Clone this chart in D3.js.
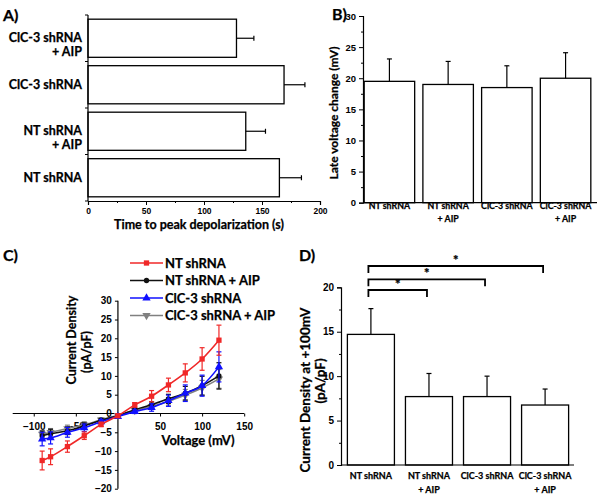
<!DOCTYPE html>
<html><head><meta charset="utf-8">
<script src="https://cdn.jsdelivr.net/npm/d3@7"></script>
<style>
body{margin:0;background:#fff;}
svg{display:block;}
text{font-family:Lato,"Open Sans",sans-serif;font-weight:bold;fill:#000;stroke:#000;stroke-width:0.25px;}
.num{font-family:"Liberation Sans",Arial,sans-serif;font-weight:bold;stroke-width:0;}
</style></head>
<body>
<script>
// ---------- Panel A data ----------
const catsA = ["ClC-3 shRNA|+ AIP", "ClC-3 shRNA", "NT shRNA|+ AIP", "NT shRNA"];
const valsA = [128, 169, 136, 165];
const errA  = [15, 18, 17, 19];
const ticksA = [0, 50, 100, 150, 200];

// ---------- Panel B data ----------
const catsB = ["NT shRNA", "NT shRNA|+ AIP", "ClC-3 shRNA", "ClC-3 shRNA|+ AIP"];
const valsB = [19.5, 19.0, 18.5, 20.0];
const errB  = [3.6, 3.7, 3.5, 4.1];
const ticksB = [0, 5, 10, 15, 20, 25, 30];

// ---------- Panel C data ----------
const voltages = [-90, -80, -60, -40, -20, 0, 20, 40, 60, 80, 100, 120];
const seriesNames = ["NT shRNA", "NT shRNA + AIP", "ClC-3 shRNA", "ClC-3 shRNA + AIP"];
const ntVals     = [-12.5, -11.5, -8.8, -5.9, -2.9, -0.6, 2.3, 4.6, 7.6, 10.8, 14.5, 19.5];
const ntErr      = [2.5, 2.1, 1.5, 1.0, 0.6, 0.4, 0.6, 1.5, 1.8, 2.4, 3.0, 4.0];
const ntAipVals  = [-5.9, -5.4, -4.6, -3.3, -1.8, -0.6, 1.0, 2.3, 3.9, 5.4, 7.4, 10.0];
const ntAipErr   = [1.2, 1.2, 1.0, 0.8, 0.5, 0.3, 0.5, 0.8, 1.2, 1.8, 2.5, 3.5];
const clcVals    = [-6.8, -6.5, -5.0, -3.8, -2.2, -0.8, 0.5, 1.6, 3.4, 5.4, 7.4, 12.4];
const clcErr     = [1.8, 1.6, 1.3, 1.0, 0.6, 0.4, 0.5, 1.0, 1.5, 2.2, 2.8, 4.0];
const clcAipVals = [-5.5, -5.0, -4.0, -3.0, -1.7, -0.5, 0.8, 1.9, 3.2, 4.9, 6.8, 9.2];
const clcAipErr  = [1.0, 1.0, 0.9, 0.8, 0.5, 0.3, 0.5, 0.8, 1.0, 1.5, 2.0, 2.5];
const xTicksC = [-100, -50, 0, 50, 100, 150];
const yTicksC = [-20, -15, -10, -5, 0, 5, 10, 15, 20, 25, 30];

// ---------- Panel D data ----------
const catsD = ["NT shRNA", "NT shRNA|+ AIP", "ClC-3 shRNA", "ClC-3 shRNA|+ AIP"];
const valsD = [14.7, 7.7, 7.7, 6.75];
const errD  = [2.9, 2.6, 2.3, 1.8];
const ticksD = [0, 5, 10, 15, 20];
const sigPairs = [[0, 1], [0, 2], [0, 3]];

const svg = d3.select("body").append("svg").attr("width", 602).attr("height", 498);

function multiLabel(g, x, y, label, anchor, size, dy) {
  const parts = label.split("|");
  parts.forEach((p, i) => {
    g.append("text").attr("x", x).attr("y", y + i * dy).attr("text-anchor", anchor)
      .attr("font-size", size).text(p);
  });
}

// ================= Panel A =================
{
  const g = svg.append("g");
  const x = d3.scaleLinear().domain([0, 200]).range([88, 320]);
  const y = d3.scaleBand().domain(catsA).range([15, 201]).paddingInner(0.18).paddingOuter(0.09);
  g.append("text").attr("x", 3).attr("y", 21).attr("font-size", 16).text("A)");
  g.selectAll("rect.bar").data(catsA).join("rect")
    .attr("x", x(0)).attr("y", d => y(d)).attr("width", (d, i) => x(valsA[i]) - x(0))
    .attr("height", y.bandwidth()).attr("fill", "#fff").attr("stroke", "#000").attr("stroke-width", 1.3);
  catsA.forEach((c, i) => {
    const cy = y(c) + y.bandwidth() / 2;
    g.append("line").attr("x1", x(valsA[i])).attr("x2", x(valsA[i] + errA[i])).attr("y1", cy).attr("y2", cy)
      .attr("stroke", "#000").attr("stroke-width", 1.2);
    g.append("line").attr("x1", x(valsA[i] + errA[i])).attr("x2", x(valsA[i] + errA[i])).attr("y1", cy - 2.5).attr("y2", cy + 2.5)
      .attr("stroke", "#000").attr("stroke-width", 1.2);
  });
  const ax = g.append("g").attr("transform", "translate(0,201)")
    .call(d3.axisBottom(x).tickValues(ticksA).tickSize(4).tickPadding(3));
  ax.selectAll("text").attr("class", "num").attr("font-size", 8.5);
  ax.select(".domain").attr("stroke-width", 1.2);
  g.append("g").attr("transform", "translate(0,201)")
    .call(d3.axisBottom(x).tickValues([25, 75, 125, 175]).tickSize(2).tickFormat(""))
    .select(".domain").remove();
  g.append("text").attr("x", 199).attr("y", 229).attr("text-anchor", "middle").attr("font-size", 12.5)
    .text("Time to peak depolarization (s)");
  g.append("line").attr("x1", 88).attr("x2", 88).attr("y1", 15).attr("y2", 201).attr("stroke", "#000").attr("stroke-width", 1.2);
  const bounds = catsA.map(c => y(c) - y.step() * y.paddingInner() / 2).concat([201]);
  bounds[0] = 15;
  bounds.forEach(b => g.append("line").attr("x1", 85).attr("x2", 88).attr("y1", b).attr("y2", b).attr("stroke", "#000"));
  catsA.forEach(c => multiLabel(g, 82, y(c) + y.bandwidth() / 2 + 4, c, "end", 12.5, 14));
}

// ================= Panel B =================
{
  const g = svg.append("g");
  const x = d3.scaleBand().domain(catsB).range([363, 592]).paddingInner(0.14).paddingOuter(0.02);
  const y = d3.scaleLinear().domain([0, 30]).range([202.7, 16]);
  g.append("text").attr("x", 332).attr("y", 20).attr("font-size", 16).text("B)");
  g.selectAll("rect.bar").data(catsB).join("rect")
    .attr("x", d => x(d)).attr("y", (d, i) => y(valsB[i])).attr("width", x.bandwidth())
    .attr("height", (d, i) => y(0) - y(valsB[i])).attr("fill", "#fff").attr("stroke", "#000").attr("stroke-width", 1.3);
  catsB.forEach((c, i) => {
    const cx = x(c) + x.bandwidth() / 2;
    g.append("line").attr("x1", cx).attr("x2", cx).attr("y1", y(valsB[i])).attr("y2", y(valsB[i] + errB[i])).attr("stroke", "#000").attr("stroke-width", 1.2);
    g.append("line").attr("x1", cx - 2.5).attr("x2", cx + 2.5).attr("y1", y(valsB[i] + errB[i])).attr("y2", y(valsB[i] + errB[i])).attr("stroke", "#000").attr("stroke-width", 1.2);
    multiLabel(g, cx, 209, c, "middle", 8.8, 13);
  });
  const ay = g.append("g").attr("transform", "translate(363,0)")
    .call(d3.axisLeft(y).tickValues(ticksB).tickSize(4).tickPadding(3));
  ay.selectAll("text").attr("class", "num").attr("font-size", 9.5);
  ay.select(".domain").attr("stroke-width", 1.2);
  g.append("g").attr("transform", "translate(363,0)")
    .call(d3.axisLeft(y).tickValues([2.5, 7.5, 12.5, 17.5, 22.5, 27.5]).tickSize(2).tickFormat(""))
    .select(".domain").remove();
  g.append("line").attr("x1", 363).attr("x2", 597).attr("y1", y(0)).attr("y2", y(0)).attr("stroke", "#000").attr("stroke-width", 1.2);
  g.append("text").attr("transform", "translate(338,113) rotate(-90)")
    .attr("text-anchor", "middle").attr("font-size", 12).text("Late voltage change (mV)");
}

// ================= Panel C =================
{
  const g = svg.append("g");
  const x = d3.scaleLinear().domain([-125, 150]).range([12.7, 244.2]);
  const y = d3.scaleLinear().domain([-20, 30]).range([488.7, 300.7]);
  g.append("text").attr("x", 3).attr("y", 261).attr("font-size", 16).text("C)");
  const ax = g.append("g").attr("transform", `translate(0,${y(0)})`)
    .call(d3.axisBottom(x).tickValues(xTicksC).tickSize(3).tickPadding(6));
  ax.selectAll("text").attr("class", "num").attr("font-size", 10);
  ax.select(".domain").attr("d", `M${x(-125)},0H${x(150)}`).attr("stroke-width", 1.2);
  ax.selectAll(".tick").filter(d => d === 0).select("text").remove();
  const ay = g.append("g").attr("transform", `translate(${x(0)},0)`)
    .call(d3.axisLeft(y).tickValues(yTicksC).tickSize(3).tickPadding(3));
  ay.selectAll("text").attr("class", "num").attr("font-size", 10);
  ay.select(".domain").attr("d", `M0,${y(30)}V${y(-20)}`).attr("stroke-width", 1.2);
  g.append("text").attr("x", 198).attr("y", 445).attr("text-anchor", "middle").attr("font-size", 13).text("Voltage (mV)");
  g.append("text").attr("transform", "translate(76,340) rotate(-90)").attr("text-anchor", "middle").attr("font-size", 12.5).text("Current Density");
  g.append("text").attr("transform", "translate(91,352) rotate(-90)").attr("text-anchor", "middle").attr("font-size", 12.5).text("(pA/pF)");

  const series = [
    {name: seriesNames[3], vals: clcAipVals, err: clcAipErr, color: "#808080", sym: d3.symbolTriangle, rot: 180},
    {name: seriesNames[1], vals: ntAipVals, err: ntAipErr, color: "#111111", sym: d3.symbolCircle, rot: 0},
    {name: seriesNames[2], vals: clcVals, err: clcErr, color: "#1010ff", sym: d3.symbolTriangle, rot: 0},
    {name: seriesNames[0], vals: ntVals, err: ntErr, color: "#f02828", sym: d3.symbolSquare, rot: 0}
  ];
  const symSize = s => s.sym === d3.symbolCircle ? 22 : (s.sym === d3.symbolSquare ? 28 : 30);
  const line = d3.line().x(d => x(d[0])).y(d => y(d[1])).curve(d3.curveMonotoneX);
  series.forEach(s => {
    const pts = voltages.map((v, i) => [v, s.vals[i], s.err[i]]);
    g.append("path").attr("d", line(pts)).attr("fill", "none").attr("stroke", s.color).attr("stroke-width", 1.6);
    pts.forEach(p => {
      const px = x(p[0]);
      g.append("line").attr("x1", px).attr("x2", px).attr("y1", y(p[1] - p[2])).attr("y2", y(p[1] + p[2])).attr("stroke", s.color).attr("stroke-width", 1.2);
      [p[1] - p[2], p[1] + p[2]].forEach(e => g.append("line").attr("x1", px - 2.5).attr("x2", px + 2.5).attr("y1", y(e)).attr("y2", y(e)).attr("stroke", s.color).attr("stroke-width", 1.2));
      g.append("path").attr("d", d3.symbol(s.sym, symSize(s))())
        .attr("transform", `translate(${px},${y(p[1])}) rotate(${s.rot})`).attr("fill", s.color);
    });
  });
  const legOrder = [3, 1, 2, 0];
  legOrder.forEach((k, i) => {
    const s = series[k];
    const ly = 263 + i * 17.5;
    g.append("line").attr("x1", 130).attr("x2", 163).attr("y1", ly).attr("y2", ly).attr("stroke", s.color).attr("stroke-width", 1.6);
    g.append("path").attr("d", d3.symbol(s.sym, symSize(s))())
      .attr("transform", `translate(146.5,${ly}) rotate(${s.rot})`).attr("fill", s.color);
    g.append("text").attr("x", 165).attr("y", ly + 4.5).attr("font-size", 13).text(s.name);
  });
}

// ================= Panel D =================
{
  const g = svg.append("g");
  const x = d3.scaleBand().domain(catsD).range([341, 575]).paddingInner(0.19).paddingOuter(0.11);
  const y = d3.scaleLinear().domain([0, 20]).range([465, 287.3]);
  g.append("text").attr("x", 299).attr("y", 261).attr("font-size", 16).text("D)");
  g.selectAll("rect.bar").data(catsD).join("rect")
    .attr("x", d => x(d)).attr("y", (d, i) => y(valsD[i])).attr("width", x.bandwidth())
    .attr("height", (d, i) => y(0) - y(valsD[i])).attr("fill", "#fff").attr("stroke", "#000").attr("stroke-width", 1.3);
  catsD.forEach((c, i) => {
    const cx = x(c) + x.bandwidth() / 2;
    g.append("line").attr("x1", cx).attr("x2", cx).attr("y1", y(valsD[i])).attr("y2", y(valsD[i] + errD[i])).attr("stroke", "#000").attr("stroke-width", 1.2);
    g.append("line").attr("x1", cx - 2.5).attr("x2", cx + 2.5).attr("y1", y(valsD[i] + errD[i])).attr("y2", y(valsD[i] + errD[i])).attr("stroke", "#000").attr("stroke-width", 1.2);
    multiLabel(g, cx, 479, c, "middle", 9, 13.5);
  });
  const ay = g.append("g").attr("transform", "translate(341,0)")
    .call(d3.axisLeft(y).tickValues(ticksD).tickSize(4).tickPadding(3));
  ay.selectAll("text").attr("class", "num").attr("font-size", 10);
  ay.select(".domain").attr("stroke-width", 1.2);
  g.append("g").attr("transform", "translate(341,0)")
    .call(d3.axisLeft(y).tickValues([2.5, 7.5, 12.5, 17.5]).tickSize(2).tickFormat(""))
    .select(".domain").remove();
  g.append("line").attr("x1", 341).attr("x2", 574).attr("y1", y(0)).attr("y2", y(0)).attr("stroke", "#000").attr("stroke-width", 1.2);
  g.append("text").attr("transform", "translate(310,390) rotate(-90)")
    .attr("text-anchor", "middle").attr("font-size", 13.5).text("Current Density at +100mV");
  g.append("text").attr("transform", "translate(325,381) rotate(-90)")
    .attr("text-anchor", "middle").attr("font-size", 13.5).text("(pA/pF)");
  const bracketY = [290, 279.3, 266];
  sigPairs.forEach((pr, i) => {
    const x1 = x(catsD[pr[0]]) + x.bandwidth() / 2 - 2.5;
    const x2 = x(catsD[pr[1]]) + x.bandwidth() / 2 - 2;
    const by = bracketY[i];
    g.append("path").attr("d", `M${x1},${by + 7}V${by}H${x2}V${by + 7}`)
      .attr("fill", "none").attr("stroke", "#000").attr("stroke-width", 1.8);
    g.append("text").attr("x", (x1 + x2) / 2).attr("y", by - 1).attr("text-anchor", "middle").attr("font-size", 13).text("*");
  });
}
</script>
</body></html>
